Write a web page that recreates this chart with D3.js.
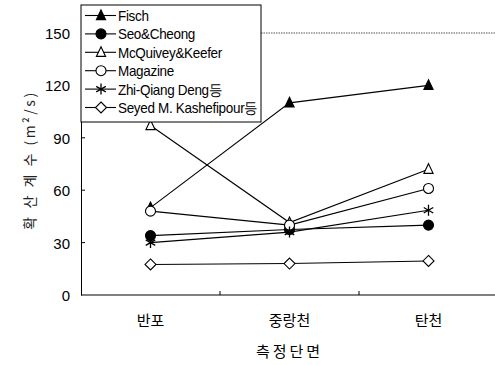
<!DOCTYPE html>
<html>
<head>
<meta charset="utf-8">
<script src="https://cdn.jsdelivr.net/npm/d3@7"></script>
<style>
  html, body { margin: 0; padding: 0; background: #fff; }
  svg { display: block; }
  text { font-family: "Liberation Sans", Arial, sans-serif; fill: #000; }
</style>
</head>
<body>
<svg id="chart" width="495" height="365"></svg>
<script>
// Measurement sections along the stream
const sections = ["반포", "중랑천", "탄천"];

// Dispersion coefficient (m²/s) by method
const fisch      = [50, 110, 120];
const seoCheong  = [34, 37.5, 40];
const mcquivey   = [97, 41.5, 72];
const magazine   = [48, 40, 61];
const zhiQiang   = [30, 36, 48.5];
const kashefipour = [17.5, 18, 19.5];

const yTicks = [0, 30, 60, 90, 120, 150];

const seriesNames = ["Fisch", "Seo&Cheong", "McQuivey&Keefer", "Magazine", "Zhi-Qiang Deng등", "Seyed M. Kashefipour등"];
const seriesMarkers = ["triangleFilled", "circleFilled", "triangleOpen", "circleOpen", "asterisk", "diamond"];
const seriesValues = [fisch, seoCheong, mcquivey, magazine, zhiQiang, kashefipour];

const svg = d3.select("#chart");
const plot = { left: 81, right: 495, top: 33, bottom: 295 };

const x = d3.scaleBand().domain(sections).range([plot.left, plot.right + 3]);
const y = d3.scaleLinear().domain([0, 150]).range([plot.bottom, plot.top]);

// dotted top border of the plotting area
svg.append("line")
  .attr("x1", plot.left).attr("x2", plot.right)
  .attr("y1", y(150)).attr("y2", y(150))
  .attr("stroke", "#555").attr("stroke-width", 1)
  .attr("stroke-dasharray", "1.5,1");

// y axis
const yAxis = d3.axisLeft(y).tickValues(yTicks).tickSize(0).tickPadding(11);
const gy = svg.append("g").attr("transform", `translate(${plot.left},0)`).call(yAxis);
gy.select(".domain").attr("stroke", "#000");
gy.selectAll("text").style("font-size", "15px").attr("dy", "0.36em");
// inward tick marks
svg.append("g").selectAll("line").data(yTicks.slice(1, -1)).join("line")
  .attr("x1", plot.left).attr("x2", plot.left + 4)
  .attr("y1", d => y(d)).attr("y2", d => y(d))
  .attr("stroke", "#000");

// x axis
const xAxis = d3.axisBottom(x).tickSize(0).tickPadding(20);
const gx = svg.append("g").attr("transform", `translate(0,${plot.bottom})`).call(xAxis);
gx.select(".domain").attr("stroke", "#000").attr("d", `M${plot.left},0H${plot.right}`);
gx.selectAll("text").style("font-size", "15px").attr("dy", "0.71em")
  .style("font-family", "'Noto Sans CJK KR', sans-serif");
// boundary ticks between sections
svg.append("g").selectAll("line").data(sections.slice(1)).join("line")
  .attr("x1", d => x(d)).attr("x2", d => x(d))
  .attr("y1", plot.bottom).attr("y2", plot.bottom - 4)
  .attr("stroke", "#000");

// axis titles
svg.append("text")
  .attr("x", x("중랑천") + x.bandwidth() / 2).attr("y", 357)
  .attr("text-anchor", "middle")
  .style("font-size", "15px").style("letter-spacing", "3px")
  .style("font-family", "'Noto Sans CJK KR', sans-serif")
  .text("측정단면");

svg.append("text")
  .attr("transform", "translate(35,160) rotate(-90)")
  .attr("text-anchor", "middle")
  .style("font-size", "14px").style("letter-spacing", "2.5px")
  .style("font-family", "'Noto Sans CJK KR', sans-serif")
  .style("fill", "#222")
  .text("확 산 계 수 (m²/s)");

// marker drawing
function drawMarker(g, type, cx, cy) {
  const s = 4.6;
  if (type === "triangleFilled" || type === "triangleOpen") {
    g.append("path")
      .attr("d", `M${cx},${cy - s - 1}L${cx + s},${cy + s - 0.5}L${cx - s},${cy + s - 0.5}Z`)
      .attr("fill", type === "triangleFilled" ? "#000" : "#fff")
      .attr("stroke", "#000").attr("stroke-width", 1.1);
  } else if (type === "circleFilled" || type === "circleOpen") {
    g.append("circle").attr("cx", cx).attr("cy", cy).attr("r", 5)
      .attr("fill", type === "circleFilled" ? "#000" : "#fff")
      .attr("stroke", "#000").attr("stroke-width", 1.1);
  } else if (type === "diamond") {
    g.append("path")
      .attr("d", `M${cx},${cy - 5.5}L${cx + 5.5},${cy}L${cx},${cy + 5.5}L${cx - 5.5},${cy}Z`)
      .attr("fill", "#fff").attr("stroke", "#000").attr("stroke-width", 1.1);
  } else if (type === "asterisk") {
    const r = 5.5;
    const p = [];
    for (let k = 0; k < 3; k++) {
      const a = Math.PI / 2 + k * Math.PI / 3;
      p.push(`M${cx - r * Math.cos(a)},${cy - r * Math.sin(a)}L${cx + r * Math.cos(a)},${cy + r * Math.sin(a)}`);
    }
    g.append("path").attr("d", p.join("")).attr("stroke", "#000").attr("stroke-width", 1.3).attr("fill", "none");
  }
}

const cxOf = d => x(d) + x.bandwidth() / 2;
const line = d3.line().x((d, i) => cxOf(sections[i])).y(d => y(d));

// series lines, then markers
const gSeries = svg.append("g");
seriesValues.forEach(vals => {
  gSeries.append("path").datum(vals).attr("d", line)
    .attr("fill", "none").attr("stroke", "#000").attr("stroke-width", 1.1);
});
seriesValues.forEach((vals, si) => {
  vals.forEach((v, i) => drawMarker(gSeries, seriesMarkers[si], cxOf(sections[i]), y(v)));
});

// legend
const lg = svg.append("g");
lg.append("rect").attr("x", 81).attr("y", 5).attr("width", 180).attr("height", 117)
  .attr("fill", "#fff").attr("stroke", "#000").attr("stroke-width", 1);
seriesNames.forEach((name, i) => {
  const ly = 15.5 + i * 18.4;
  lg.append("line").attr("x1", 85).attr("x2", 116).attr("y1", ly).attr("y2", ly)
    .attr("stroke", "#000").attr("stroke-width", 1.1);
  drawMarker(lg, seriesMarkers[i], 101, ly);
  lg.append("text")
    .attr("transform", `translate(118,${ly}) scale(0.9,1)`)
    .attr("dy", "0.36em")
    .style("font-size", "15px").style("letter-spacing", "-0.35px")
    .text(name);
});
</script>
</body>
</html>
